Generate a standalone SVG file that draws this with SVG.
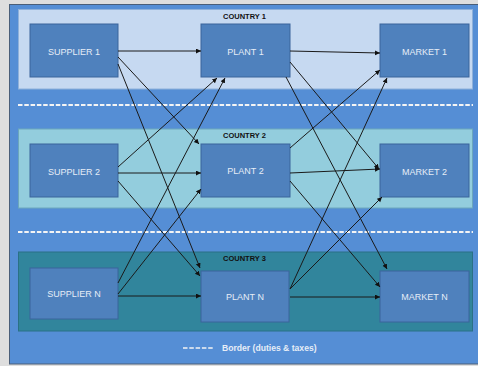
<svg xmlns="http://www.w3.org/2000/svg" width="478" height="366" viewBox="0 0 478 366">
<style>
.node rect{fill:#4f81bd;stroke:#3b659b;stroke-width:1}
.node text{font-family:"Liberation Sans",Arial,sans-serif;font-size:9px;fill:#e6edf7;text-anchor:middle}
.clabel{font-family:"Liberation Sans",Arial,sans-serif;font-size:7.5px;font-weight:bold;fill:#111;text-anchor:middle}
.border{stroke:#f4f4f4;stroke-width:2;stroke-dasharray:4.5 1.8;fill:none}
#connectors line{stroke:#1a1a1a;stroke-width:1;marker-end:url(#ah)}
</style>
<defs>
<marker id="ah" markerUnits="userSpaceOnUse" markerWidth="6" markerHeight="6" refX="5" refY="2.5" orient="auto">
<path d="M0,0 L5,2.5 L0,5 z" fill="#111"/>
</marker>
</defs>
<rect x="0" y="0" width="478" height="366" fill="#dedede"/>
<rect x="9.5" y="4.5" width="470" height="359.5" fill="#558ed5" stroke="#4a5e78" stroke-width="1"/>
<g id="country1">
<rect x="18.5" y="9.5" width="454" height="79.5" fill="#c6d9f1" stroke="#8fb1da"/>
<text class="clabel" x="244.5" y="18.5">COUNTRY 1</text>
</g>
<g id="country2">
<rect x="18.5" y="129" width="454" height="79" fill="#93cddd" stroke="#6ca7bd"/>
<text class="clabel" x="244.5" y="137.5">COUNTRY 2</text>
</g>
<g id="country3">
<rect x="18.5" y="252" width="454" height="79" fill="#31859c" stroke="#2a7186"/>
<text class="clabel" x="244.5" y="261">COUNTRY 3</text>
</g>
<line class="border" x1="18" y1="105" x2="473" y2="105"/>
<line class="border" x1="18" y1="232" x2="473" y2="232"/>
<g id="supplier1" class="node"><rect x="30" y="24" width="88" height="53"/><text x="74" y="55">SUPPLIER 1</text></g>
<g id="plant1" class="node"><rect x="201" y="24" width="89" height="53"/><text x="245.5" y="54.5">PLANT 1</text></g>
<g id="market1" class="node"><rect x="380" y="24" width="89" height="53"/><text x="424.5" y="55">MARKET 1</text></g>
<g id="supplier2" class="node"><rect x="30" y="144" width="88" height="53"/><text x="74" y="174.5">SUPPLIER 2</text></g>
<g id="plant2" class="node"><rect x="201" y="144" width="89" height="53"/><text x="245.5" y="174">PLANT 2</text></g>
<g id="market2" class="node"><rect x="380" y="144" width="89" height="53"/><text x="424.5" y="174.5">MARKET 2</text></g>
<g id="supplierN" class="node"><rect x="30" y="268" width="88" height="51"/><text x="74" y="297">SUPPLIER N</text></g>
<g id="plantN" class="node"><rect x="201" y="271" width="88" height="51"/><text x="245" y="300">PLANT N</text></g>
<g id="marketN" class="node"><rect x="380" y="271" width="89" height="51"/><text x="424.5" y="300">MARKET N</text></g>
<g id="connectors">
<line x1="118" y1="51" x2="201" y2="51"/>
<line x1="118" y1="57" x2="199" y2="144"/>
<line x1="118" y1="64" x2="200" y2="268"/>
<line x1="118" y1="167" x2="217" y2="78"/>
<line x1="118" y1="173" x2="201" y2="173"/>
<line x1="118" y1="181" x2="200" y2="276"/>
<line x1="118" y1="283" x2="225" y2="78"/>
<line x1="118" y1="294" x2="201" y2="189"/>
<line x1="118" y1="296" x2="201" y2="296"/>
<line x1="290" y1="51" x2="380" y2="53"/>
<line x1="290" y1="62" x2="379" y2="169"/>
<line x1="286" y1="77" x2="387" y2="269"/>
<line x1="290" y1="148" x2="380" y2="70"/>
<line x1="290" y1="173" x2="380" y2="169"/>
<line x1="290" y1="181" x2="380" y2="287"/>
<line x1="290" y1="289" x2="387" y2="78"/>
<line x1="290" y1="289" x2="382" y2="197"/>
<line x1="290" y1="297" x2="380" y2="297"/>
</g>
<g id="legend">
<line x1="183" y1="348" x2="213" y2="348" stroke="#f4f4f4" stroke-width="1.6" stroke-dasharray="4.5 1.8"/>
<text x="222" y="351" font-family="'Liberation Sans',Arial,sans-serif" font-size="8.6" font-weight="bold" fill="#e6edf7">Border (duties &amp; taxes)</text>
</g>
</svg>
